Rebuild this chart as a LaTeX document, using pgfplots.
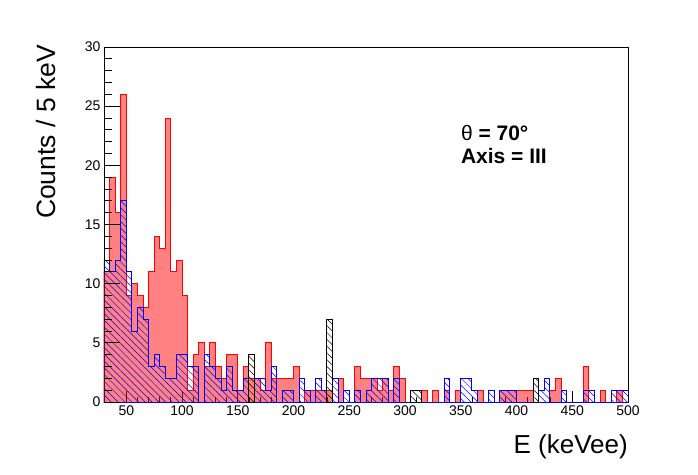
\documentclass[border=0pt]{standalone}
\usepackage{fontspec}
\setmainfont{Liberation Sans}
\usepackage{pgfplots}
\pgfplotsset{compat=1.18}
\usetikzlibrary{patterns.meta}

\pgfplotstableread{
x y
30 11
35 19
40 16
45 26
50 9
55 10
60 9
65 8
70 11
75 14
80 13
85 24
90 11
95 12
100 9
105 1
110 4
115 5
120 3
125 5
130 3
135 2
140 4
145 4
150 1
155 3
160 2
165 2
170 1
175 5
180 2
185 2
190 2
195 2
200 3
205 0
210 1
215 1
220 1
225 1
230 1
235 0
240 2
245 0
250 0
255 3
260 2
265 2
270 2
275 1
280 2
285 1
290 3
295 2
300 0
305 0
310 0
315 1
320 0
325 1
330 0
335 1
340 0
345 1
350 0
355 0
360 0
365 1
370 0
375 0
380 0
385 1
390 1
395 1
400 1
405 1
410 1
415 0
420 0
425 0
430 1
435 2
440 0
445 0
450 0
455 0
460 3
465 0
470 0
475 1
480 0
485 0
490 1
495 0
500 0
}\redtab

\pgfplotstableread{
x y
30 12
35 11
40 12
45 17
50 11
55 6
60 8
65 7
70 3
75 4
80 3
85 2
90 2
95 4
100 4
105 3
110 3
115 0
120 4
125 3
130 2
135 1
140 3
145 1
150 1
155 2
160 0
165 2
170 2
175 1
180 3
185 0
190 1
195 1
200 0
205 2
210 1
215 0
220 2
225 1
230 0
235 2
240 0
245 1
250 0
255 1
260 0
265 1
270 2
275 2
280 2
285 0
290 2
295 0
300 0
305 0
310 0
315 0
320 0
325 0
330 0
335 2
340 0
345 0
350 2
355 2
360 1
365 0
370 0
375 1
380 0
385 1
390 1
395 1
400 0
405 0
410 0
415 0
420 1
425 2
430 0
435 0
440 1
445 0
450 0
455 0
460 1
465 1
470 0
475 0
480 0
485 1
490 1
495 1
500 1
}\bluetab

\tikzset{hatchb/.style={pattern={Lines[angle=-45, distance=4.8pt, line width=0.5pt]}}}

\begin{document}
\begin{tikzpicture}
\useasboundingbox (-104pt,-72pt) rectangle (594pt,402pt);
\begin{axis}[
  at={(0pt,0pt)}, anchor=south west,
  scale only axis, width=524pt, height=355pt,
  xmin=30, xmax=500, ymin=0, ymax=30,
  xtick={50,100,...,500}, ytick={0,5,...,30},
  minor x tick num=4, minor y tick num=4,
  tick align=inside, xtick pos=left, ytick pos=left,
  major tick length=10.6pt, minor tick length=5.3pt,
  ytick style={draw=none},
  axis line style={line width=0.8pt},
  xtick style={line width=0.8pt, black},
  /pgf/number format/assume math mode=true,
  tick label style={font=\fontsize{14}{14}\selectfont},
  xlabel={E (keVee)},
  xlabel style={at={(axis description cs:1,0)}, anchor=base east, inner sep=0pt, yshift=-51pt, font=\fontsize{26}{26}\selectfont},
  ylabel={Counts / 5 keV},
  ylabel style={at={(axis description cs:-0.0935,1.006)}, anchor=base east, inner sep=0pt, font=\fontsize{26.5}{26.5}\selectfont},
]
\addplot[const plot mark left, draw=red, line width=1pt, pattern={Dots[distance=2pt, radius=0.8pt]}, pattern color=red] table[x=x,y=y] {\redtab} \closedcycle;
\addplot[const plot mark left, draw=blue, line width=1pt, hatchb, pattern color=blue] table[x=x,y=y] {\bluetab} \closedcycle;
\addplot[const plot mark left, draw=black, line width=1pt, hatchb, pattern color=black] coordinates {(160,4) (165,4)} \closedcycle;
\addplot[const plot mark left, draw=black, line width=1pt, hatchb, pattern color=black] coordinates {(230,7) (235,7)} \closedcycle;
\addplot[const plot mark left, draw=black, line width=1pt, hatchb, pattern color=black] coordinates {(305,1) (310,1) (315,1)} \closedcycle;
\addplot[const plot mark left, draw=black, line width=1pt, hatchb, pattern color=black] coordinates {(415,2) (420,2)} \closedcycle;
\node[anchor=base west, inner sep=0pt, font=\fontsize{21}{21}\selectfont] at (rel axis cs:0.681,0.736) {θ\textbf{ = 70°}};
\node[anchor=base west, inner sep=0pt, font=\fontsize{21}{21}\selectfont\bfseries] at (rel axis cs:0.681,0.672) {Axis = III};
\end{axis}
\begin{axis}[
  at={(0pt,0pt)}, anchor=south west,
  scale only axis, width=524pt, height=355pt,
  xmin=30, xmax=500, ymin=0, ymax=30,
  hide x axis, axis line style={draw=none},
  ytick={0,5,...,30}, minor y tick num=4, yticklabels={},
  tick align=inside, ytick pos=left,
  major tick length=15.7pt, minor tick length=7.8pt,
  ytick style={line width=0.8pt, black},
]
\end{axis}
\end{tikzpicture}
\end{document}
